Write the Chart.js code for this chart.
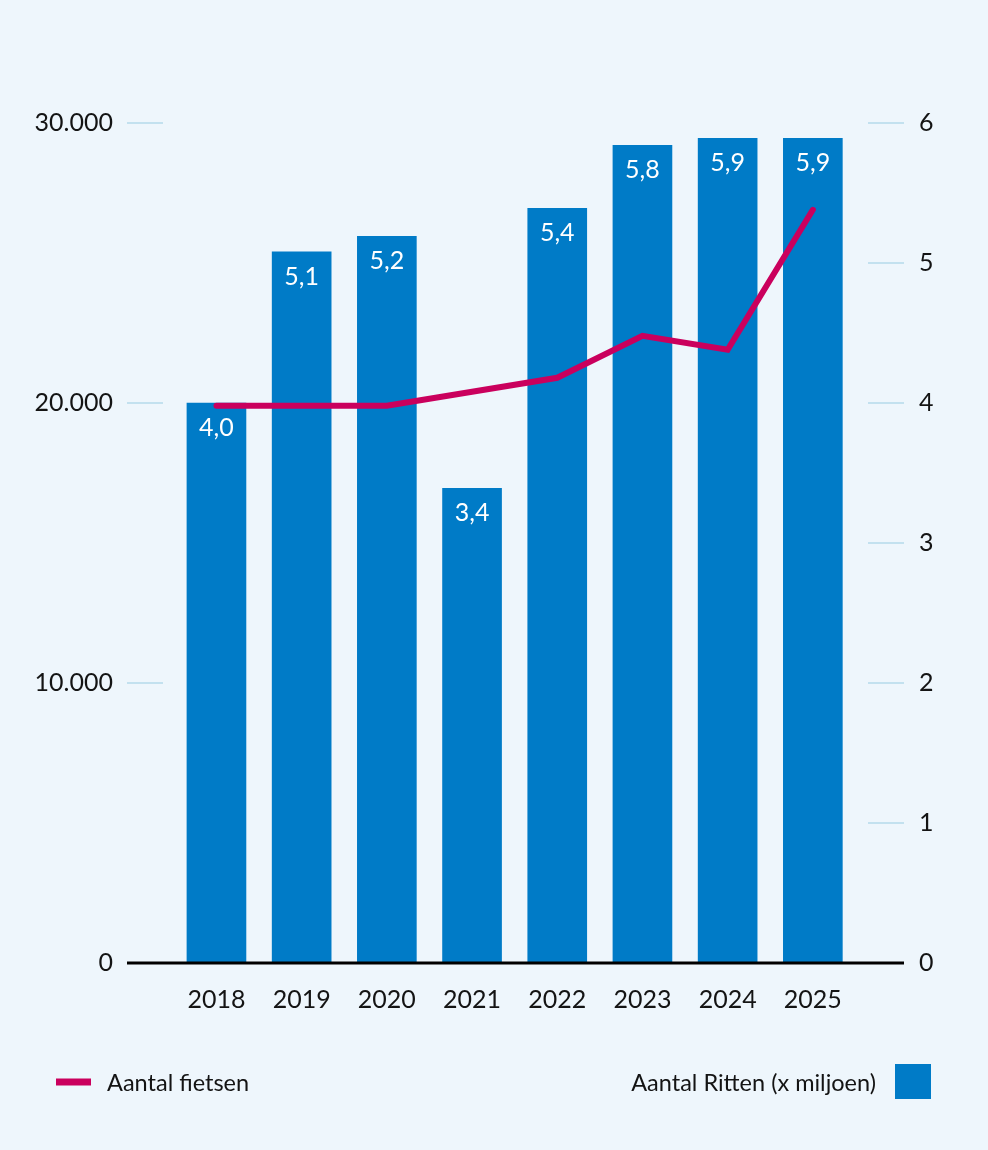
<!DOCTYPE html>
<html><head><meta charset="utf-8">
<script src="https://cdn.jsdelivr.net/npm/chart.js@4.4.1/dist/chart.umd.min.js"></script>
<style>html,body{margin:0;padding:0;background:#EEF6FC;}canvas{display:block;}</style>
</head><body>
<canvas id="c" width="988" height="1150"></canvas>
<script>
const years = ['2018','2019','2020','2021','2022','2023','2024','2025'];
const ritten = [4.0, 5.08, 5.19, 3.39, 5.39, 5.84, 5.89, 5.89];
const fietsen = [19900, 19900, 19900, 20400, 20900, 22400, 21900, 26900];
const leftTicks = [0, 10000, 20000, 30000];
const rightTicks = [0, 1, 2, 3, 4, 5, 6];
const lineLabel = 'Aantal fietsen';
const barLabel = 'Aantal Ritten (x miljoen)';

const BG = '#EEF6FC', BLUE = '#007BC7', RED = '#CA005D', GRID = '#B5DAEB', TXT = '#141414';
const fmtThousands = v => String(v).replace(/\B(?=(\d{3})+(?!\d))/g, '.');
const fmtDec = v => v.toFixed(1).replace('.', ',');

const deco = {
  id: 'deco',
  beforeDraw(chart) {
    const ctx = chart.ctx;
    ctx.save(); ctx.fillStyle = BG; ctx.fillRect(0, 0, chart.width, chart.height); ctx.restore();
  },
  beforeDatasetsDraw(chart) {
    const {ctx, chartArea: a, scales} = chart;
    ctx.save();
    ctx.strokeStyle = GRID; ctx.lineWidth = 1.5;
    leftTicks.forEach(v => { if (v === 0) return; const y = scales.y.getPixelForValue(v);
      ctx.beginPath(); ctx.moveTo(a.left, y); ctx.lineTo(a.left + 36, y); ctx.stroke(); });
    rightTicks.forEach(v => { if (v === 0) return; const y = scales.y1.getPixelForValue(v);
      ctx.beginPath(); ctx.moveTo(a.right - 36, y); ctx.lineTo(a.right, y); ctx.stroke(); });
    ctx.restore();
  },
  afterDatasetsDraw(chart) {
    const {ctx, chartArea: a, scales} = chart;
    ctx.save();
    const y0 = scales.y.getPixelForValue(0);
    ctx.strokeStyle = '#000'; ctx.lineWidth = 3;
    ctx.beginPath(); ctx.moveTo(a.left, y0); ctx.lineTo(a.right, y0); ctx.stroke();
    const meta = chart.getDatasetMeta(1);
    ctx.fillStyle = '#fff'; ctx.font = '25px Lato'; ctx.textAlign = 'center'; ctx.textBaseline = 'middle';
    meta.data.forEach((el, i) => { ctx.fillText(fmtDec(ritten[i]), el.x, el.y + 25); });
    const ds = chart.data.datasets;
    const ly = 1082;
    ctx.strokeStyle = ds[0].borderColor; ctx.lineWidth = 7; ctx.lineCap = 'butt';
    ctx.beginPath(); ctx.moveTo(56, ly); ctx.lineTo(91, ly); ctx.stroke();
    ctx.fillStyle = TXT; ctx.font = '23.5px Lato'; ctx.textAlign = 'left'; ctx.textBaseline = 'middle';
    ctx.fillText(ds[0].label, 107, ly + 1);
    ctx.textAlign = 'right';
    ctx.fillText(ds[1].label, 876, ly + 1);
    ctx.fillStyle = ds[1].backgroundColor;
    ctx.fillRect(895, 1064, 36, 35);
    ctx.restore();
  }
};

new Chart(document.getElementById('c'), {
  data: {
    datasets: [
      { type: 'line', label: lineLabel, data: years.map((_, i) => ({x: i, y: fietsen[i]})),
        yAxisID: 'y', xAxisID: 'x', borderColor: RED, borderWidth: 6, pointRadius: 0,
        tension: 0, borderCapStyle: 'round', borderJoinStyle: 'miter', order: 0, fill: false },
      { type: 'bar', label: barLabel, data: years.map((_, i) => ({x: i, y: ritten[i]})),
        yAxisID: 'y1', xAxisID: 'x', backgroundColor: BLUE, borderWidth: 0, barThickness: 59, order: 1 }
    ]
  },
  options: {
    responsive: false, animation: false, devicePixelRatio: 1,
    layout: { padding: { left: 0, right: 0, top: 123, bottom: 107 } },
    plugins: { legend: { display: false }, tooltip: { enabled: false } },
    scales: {
      x: { type: 'linear', position: 'bottom', min: -1.05, max: 8.07, offset: false,
        afterBuildTicks: s => { s.ticks = years.map((_, i) => ({ value: i })); },
        afterFit: s => { s.height = 80; },
        grid: { display: false, drawTicks: false, offset: false }, border: { display: false },
        ticks: { callback: v => years[v] ?? '', color: TXT, font: { family: 'Lato', size: 25 },
          padding: 22, maxRotation: 0, autoSkip: false } },
      y: { type: 'linear', position: 'left', min: 0, max: 30000,
        afterBuildTicks: s => { s.ticks = leftTicks.map(v => ({ value: v })); },
        afterFit: s => { s.width = 127; },
        grid: { display: false, drawTicks: false }, border: { display: false },
        ticks: { callback: v => fmtThousands(v), color: TXT, font: { family: 'Lato', size: 25 }, padding: 14 } },
      y1: { type: 'linear', position: 'right', min: 0, max: 6,
        afterBuildTicks: s => { s.ticks = rightTicks.map(v => ({ value: v })); },
        afterFit: s => { s.width = 84; },
        grid: { display: false, drawTicks: false }, border: { display: false },
        ticks: { callback: v => String(v), color: TXT, font: { family: 'Lato', size: 25 }, padding: 15 } }
    }
  },
  plugins: [deco]
});
</script>
</body></html>
